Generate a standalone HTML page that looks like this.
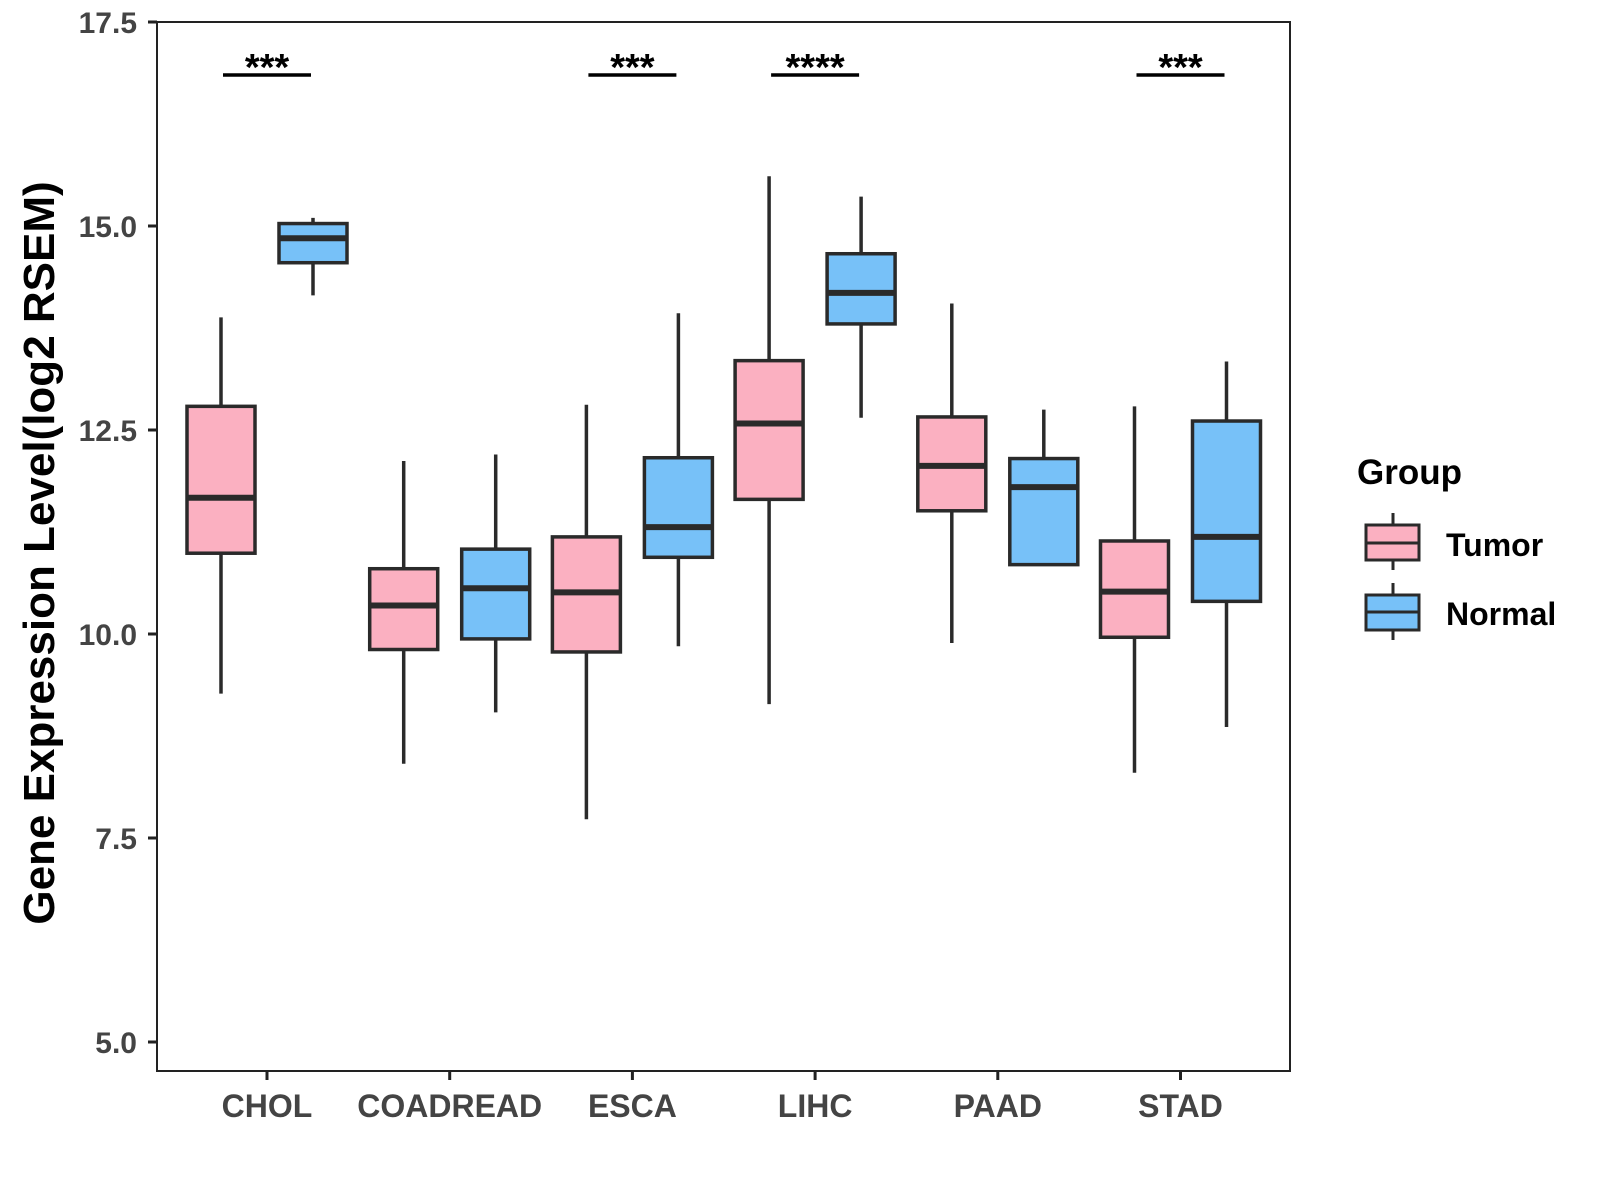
<!DOCTYPE html>
<html><head><meta charset="utf-8"><style>
body{margin:0;background:#fff;}
svg{display:block;font-family:"Liberation Sans",Arial,sans-serif;font-weight:bold;}
</style></head><body>
<svg id="chart" width="1600" height="1200" viewBox="0 0 1600 1200">
<rect x="157" y="22" width="1133" height="1049" fill="none" stroke="#222" stroke-width="2"/>
<g id="yaxis"></g>
<g id="xaxis"></g>
<g id="boxes"></g>
<g id="sig"></g>
<text transform="translate(54,553) rotate(-90)" text-anchor="middle" font-size="44" fill="#000">Gene Expression Level(log2 RSEM)</text>
<g>
<text x="1357" y="484" font-size="35" fill="#000">Group</text>
<g>
<line x1="1393" y1="513" x2="1393" y2="570" stroke="#2a2a2a" stroke-width="3"/>
<rect x="1366" y="525" width="53" height="35" fill="#FBB0C1" stroke="#2a2a2a" stroke-width="3"/>
<line x1="1366" y1="543" x2="1419" y2="543" stroke="#2a2a2a" stroke-width="3"/>
<text x="1446" y="556" font-size="32" fill="#000">Tumor</text></g>
<g>
<line x1="1393" y1="583" x2="1393" y2="640" stroke="#2a2a2a" stroke-width="3"/>
<rect x="1366" y="595" width="53" height="35" fill="#77C1F8" stroke="#2a2a2a" stroke-width="3"/>
<line x1="1366" y1="612" x2="1419" y2="612" stroke="#2a2a2a" stroke-width="3"/>
<text x="1446" y="625" font-size="32" fill="#000">Normal</text></g>
</g>
</svg>
<script>
const categories=["CHOL","COADREAD","ESCA","LIHC","PAAD","STAD"];
const tumorMin=[9.27,8.41,7.73,9.14,9.89,8.3];
const tumorQ1=[10.99,9.81,9.78,11.65,11.51,9.96];
const tumorMed=[11.67,10.35,10.51,12.58,12.06,10.52];
const tumorQ3=[12.79,10.8,11.19,13.35,12.66,11.14];
const tumorMax=[13.88,12.12,12.81,15.61,14.05,12.79];
const normalMin=[14.15,9.04,9.85,12.65,10.85,8.86];
const normalQ1=[14.55,9.94,10.94,13.8,10.85,10.4];
const normalMed=[14.85,10.56,11.31,14.18,11.8,11.19];
const normalQ3=[15.03,11.04,12.16,14.66,12.15,12.61];
const normalMax=[15.1,12.2,13.93,15.36,12.75,13.34];
const sigLabels=["***","","***","****","","***"];
const yTicks=[5.0,7.5,10.0,12.5,15.0,17.5];
const NS="http://www.w3.org/2000/svg";
const y=v=>22+(17.5-v)*81.6;
const x=i=>267+i*182.7;
function mk(t,a,p){const e=document.createElementNS(NS,t);for(const k in a)e.setAttribute(k,a[k]);p.appendChild(e);return e;}
const ya=document.getElementById('yaxis'),xa=document.getElementById('xaxis'),bx=document.getElementById('boxes'),sg=document.getElementById('sig');
yTicks.forEach(v=>{
 const l=mk('line',{x1:148,x2:157,y1:y(v),y2:y(v),stroke:'#222','stroke-width':3},ya);
 
 
 const t=mk('text',{x:137,y:y(v)+11,'text-anchor':'end','font-size':30,fill:'#444'},ya);
 
 
 t.textContent=v.toFixed(1);
});
categories.forEach((c,i)=>{
 const l=mk('line',{x1:x(i),x2:x(i),y1:1071,y2:1080,stroke:'#222','stroke-width':3},xa);
 
 
 const t=mk('text',{x:x(i),y:1117,'text-anchor':'middle','font-size':32,fill:'#444'},xa);
 
 
 t.textContent=c;
 const groups=[[tumorMin,tumorQ1,tumorMed,tumorQ3,tumorMax,'#FBB0C1',-46,'tumor'],[normalMin,normalQ1,normalMed,normalQ3,normalMax,'#77C1F8',46,'normal']];
 groups.forEach(g=>{
  const cx=x(i)+g[6];
  const grp=mk('g',{},bx);
  
  
  mk('line',{x1:cx,x2:cx,y1:y(g[4][i]),y2:y(g[0][i]),stroke:'#2a2a2a','stroke-width':3.5},grp);
  mk('rect',{x:cx-34,y:y(g[3][i]),width:68,height:y(g[1][i])-y(g[3][i]),fill:g[5],stroke:'#2a2a2a','stroke-width':3.5},grp);
  mk('line',{x1:cx-34,x2:cx+34,y1:y(g[2][i]),y2:y(g[2][i]),stroke:'#2a2a2a','stroke-width':6},grp);
 });
 if(sigLabels[i]){
  const b=mk('line',{x1:x(i)-44,x2:x(i)+44,y1:75,y2:75,stroke:'#000','stroke-width':3.5},sg);
  
  
  const s=mk('text',{x:x(i),y:80,'text-anchor':'middle','font-size':38,fill:'#000'},sg);
  
  
  s.textContent=sigLabels[i];
 }
});
</script>
</body></html>
